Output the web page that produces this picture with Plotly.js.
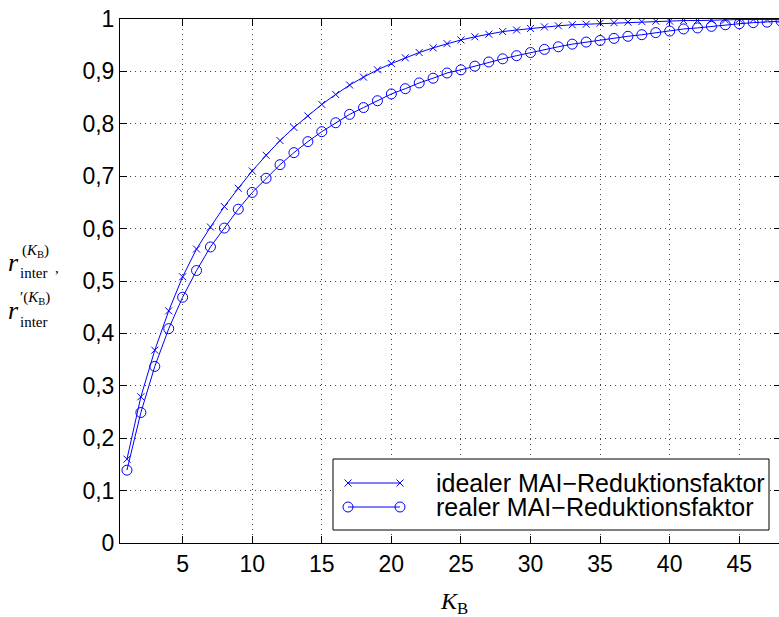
<!DOCTYPE html>
<html>
<head>
<meta charset="utf-8">
<script src="https://cdn.plot.ly/plotly-3.0.1.min.js"></script>
<style>
html,body{margin:0;padding:0;overflow:hidden;background:#fff;width:779px;height:617px;}
#chart{width:800px;height:617px;}
</style>
</head>
<body>
<div id="chart"></div>
<script>
// ---- data ----
const K = [1,2,3,4,5,6,7,8,9,10,11,12,13,14,15,16,17,18,19,20,21,22,23,24,25,26,27,28,29,30,31,32,33,34,35,36,37,38,39,40,41,42,43,44,45,46,47,48];
const idealValues = [0.160,0.279,0.368,0.443,0.508,0.561,0.603,0.642,0.677,0.710,0.740,0.768,0.793,0.815,0.837,0.856,0.874,0.889,0.903,0.915,0.926,0.936,0.945,0.953,0.960,0.966,0.971,0.976,0.979,0.982,0.985,0.987,0.989,0.990,0.992,0.993,0.994,0.995,0.996,0.996,0.997,0.997,0.998,0.998,0.999,0.999,0.999,0.999];
const realValues = [0.139,0.249,0.337,0.409,0.469,0.520,0.565,0.601,0.637,0.669,0.696,0.722,0.745,0.766,0.785,0.802,0.818,0.831,0.844,0.857,0.867,0.878,0.887,0.897,0.903,0.910,0.918,0.924,0.930,0.936,0.942,0.947,0.952,0.956,0.959,0.963,0.967,0.970,0.974,0.977,0.981,0.983,0.986,0.989,0.991,0.993,0.994,0.996];
const seriesNames = ["idealer MAI\u2212Reduktionsfaktor", "realer MAI\u2212Reduktionsfaktor"];
const xTickVals = [5,10,15,20,25,30,35,40,45];
const xTickText = ["5","10","15","20","25","30","35","40","45"];
const yTickVals = [0,0.1,0.2,0.3,0.4,0.5,0.6,0.7,0.8,0.9,1];
const yTickText = ["0","0,1","0,2","0,3","0,4","0,5","0,6","0,7","0,8","0,9","1"];

// ---- layout geometry (pixels) ----
const W = 800, H = 617;
const L = 120, R = 781, T = 19, B = 543;
const px = x => (x - L) / (R - L);
const py = y => (B - y) / (B - T);
const blue = '#0000ff';
const sans = 'Liberation Sans, Arial, sans-serif';
const tickFont = {family: sans, size: 23, color: '#000'};
const serif = 'Liberation Serif, DejaVu Serif, serif';
const xMarker = {symbol: 'x-thin-open', size: 7, color: blue, line: {color: blue, width: 1}};
const oMarker = {symbol: 'circle-open', size: 10, color: blue, line: {color: blue, width: 1}};

const traces = [
  {x: K, y: idealValues, type: 'scatter', mode: 'lines+markers', name: seriesNames[0],
   line: {color: blue, width: 1}, marker: xMarker, showlegend: false},
  {x: K, y: realValues, type: 'scatter', mode: 'lines+markers', name: seriesNames[1],
   line: {color: blue, width: 1}, marker: oMarker, showlegend: false},
  // legend box (overlay axis with 0..1 range = plot area fraction)
  {x: [px(333), px(769), px(769), px(333), px(333)], y: [py(459), py(459), py(530), py(530), py(459)],
   xaxis: 'x2', yaxis: 'y2', type: 'scatter', mode: 'lines', fill: 'toself', fillcolor: '#fff',
   line: {color: '#000', width: 1}, showlegend: false, hoverinfo: 'skip', cliponaxis: false},
  // legend samples
  {x: [px(348), px(400)], y: [py(483), py(483)], xaxis: 'x2', yaxis: 'y2', type: 'scatter', mode: 'lines+markers',
   line: {color: blue, width: 1}, marker: xMarker, showlegend: false, hoverinfo: 'skip', cliponaxis: false},
  {x: [px(348), px(400)], y: [py(507), py(507)], xaxis: 'x2', yaxis: 'y2', type: 'scatter', mode: 'lines+markers',
   line: {color: blue, width: 1}, marker: oMarker, showlegend: false, hoverinfo: 'skip', cliponaxis: false}
];

const ann = [];
function a(text, xpix, ypix, size, xanchor){
  ann.push({text: text, xref: 'paper', yref: 'paper', x: px(xpix), y: py(ypix),
            xanchor: xanchor || 'left', yanchor: 'middle', showarrow: false,
            font: {family: serif, size: size, color: '#000'}});
}
// y-axis label (two lines)
a('<i>r</i>', 6, 262, 26);
a('inter', 18, 273, 15);
a('(<i>K</i><sub>B</sub>)', 20, 251, 15);
a(',', 53, 268, 15);
a('<i>r</i>', 6, 311, 26);
a('inter', 18, 322, 15);
a('\u2032(<i>K</i><sub>B</sub>)', 18, 298, 15);
// x-axis label
a('<i>K</i><sub>B</sub>', 454, 603, 24, 'center');
// legend text
ann.push({text: seriesNames[0], xref: 'paper', yref: 'paper', x: px(434), y: py(483), xanchor: 'left', yanchor: 'middle',
          showarrow: false, font: {family: sans, size: 25, color: '#000'}});
ann.push({text: seriesNames[1], xref: 'paper', yref: 'paper', x: px(434), y: py(507), xanchor: 'left', yanchor: 'middle',
          showarrow: false, font: {family: sans, size: 25, color: '#000'}});

const layout = {
  width: W, height: H,
  margin: {l: L, r: W - R, t: T, b: H - B, pad: 0},
  paper_bgcolor: '#fff', plot_bgcolor: '#fff',
  showlegend: false,
  xaxis: {range: [0.5, 48], tickvals: xTickVals, ticktext: xTickText,
          ticks: 'inside', ticklen: 7, tickcolor: '#000', tickwidth: 1,
          showline: true, linecolor: '#000', linewidth: 1, mirror: 'allticks',
          showgrid: true, gridcolor: '#444', gridwidth: 1, griddash: '1px,4px',
          zeroline: false, tickfont: tickFont, fixedrange: true},
  yaxis: {range: [0, 1], tickvals: yTickVals, ticktext: yTickText,
          ticks: 'inside', ticklen: 7, tickcolor: '#000', tickwidth: 1,
          showline: true, linecolor: '#000', linewidth: 1, mirror: 'allticks',
          showgrid: true, gridcolor: '#444', gridwidth: 1, griddash: '1px,4px',
          zeroline: false, tickfont: tickFont, fixedrange: true},
  xaxis2: {range: [0, 1], overlaying: 'x', visible: false, fixedrange: true},
  yaxis2: {range: [0, 1], overlaying: 'y', visible: false, fixedrange: true},
  annotations: ann
};

Plotly.newPlot('chart', traces, layout, {displayModeBar: false, staticPlot: true});
</script>
</body>
</html>
